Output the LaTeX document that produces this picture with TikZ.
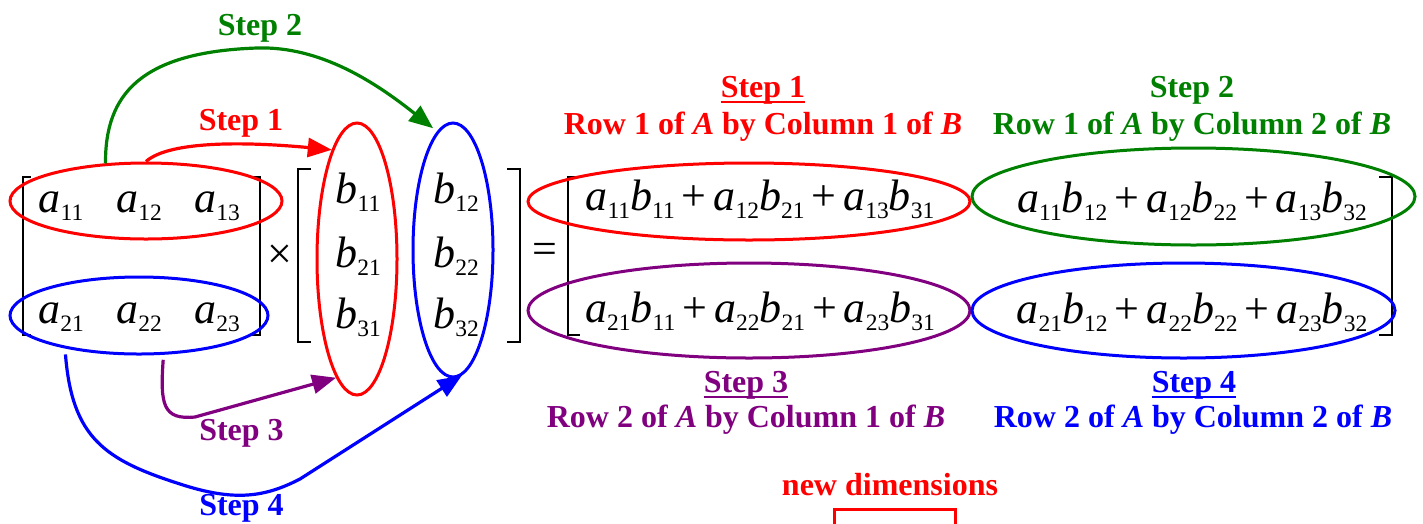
\documentclass[tikz,border=0pt]{standalone}
\usepackage{fontspec}
\setmainfont{Liberation Serif}
\usetikzlibrary{shapes.geometric,arrows.meta,calc}
\definecolor{cred}{RGB}{255,0,0}
\definecolor{cgreen}{RGB}{0,128,0}
\definecolor{cblue}{RGB}{0,0,255}
\definecolor{cpurple}{RGB}{128,0,128}
\newcommand\ent[2]{\textit{#1}\raisebox{-8pt}{\fontsize{23.5}{25}\selectfont #2}}
\newcommand\pl{\hspace{7pt}+\hspace{7pt}}
\begin{document}
\begin{tikzpicture}[x=1pt,y=-1pt,
 lab/.style={inner sep=0pt, anchor=base, font=\fontsize{32}{36}\selectfont\bfseries},
 mth/.style={inner sep=0pt, anchor=base, font=\fontsize{44}{48}\selectfont},
 ell/.style={ellipse, draw, line width=3pt, inner sep=0pt},
 brk/.style={line width=1.4pt, black},
 arr/.style={line width=3.2pt, -{Triangle[length=24pt,width=19pt]}},
 uline/.style={line width=2.5pt}]
\useasboundingbox (0,0) rectangle (1423,523);

% matrix A
\node[mth] (a11) at (61,212) {\ent{a}{11}};
\node[mth] (a12) at (139,212) {\ent{a}{12}};
\node[mth] (a13) at (217,212) {\ent{a}{13}};
\node[mth] (a21) at (61,323) {\ent{a}{21}};
\node[mth] (a22) at (139,323) {\ent{a}{22}};
\node[mth] (a23) at (217,323) {\ent{a}{23}};
\draw[brk] (31,177) -- (23,177) -- (23,335) -- (31,335);
\draw[brk] (252,177) -- (260,177) -- (260,335) -- (252,335);
\node[mth, anchor=center] (times) at (280,257) {×};

% matrix B
\node[mth] (b11) at (358,203) {\ent{b}{11}};
\node[mth] (b21) at (358,267) {\ent{b}{21}};
\node[mth] (b31) at (358,328) {\ent{b}{31}};
\node[mth] (b12) at (456,203) {\ent{b}{12}};
\node[mth] (b22) at (456,267) {\ent{b}{22}};
\node[mth] (b32) at (456,328) {\ent{b}{32}};
\draw[brk] (311,169) -- (298,169) -- (298,342) -- (311,342);
\draw[brk] (507,169) -- (520,169) -- (520,342) -- (507,342);
\node[mth, anchor=center] (eq) at (545,253) {=};

% result
\node[mth] (r11) at (760,210) {\ent{a}{11}\ent{b}{11}\pl\ent{a}{12}\ent{b}{21}\pl\ent{a}{13}\ent{b}{31}};
\node[mth] (r21) at (760,322) {\ent{a}{21}\ent{b}{11}\pl\ent{a}{22}\ent{b}{21}\pl\ent{a}{23}\ent{b}{31}};
\node[mth] (r12) at (1192,212) {\ent{a}{11}\ent{b}{12}\pl\ent{a}{12}\ent{b}{22}\pl\ent{a}{13}\ent{b}{32}};
\node[mth] (r22) at (1192,323) {\ent{a}{21}\ent{b}{12}\pl\ent{a}{22}\ent{b}{22}\pl\ent{a}{23}\ent{b}{32}};
\draw[brk] (580,177) -- (568,177) -- (568,335) -- (580,335);
\draw[brk] (1379,177) -- (1392,177) -- (1392,335) -- (1379,335);

% ellipses
\node[ell, cred, minimum width=272pt, minimum height=76pt] (ea1) at (146,201) {};
\node[ell, cblue, minimum width=258pt, minimum height=77pt] (ea2) at (139,315.5) {};
\node[ell, cred, minimum width=80pt, minimum height=272pt] (eb1) at (357,259) {};
\node[ell, cblue, minimum width=80pt, minimum height=254pt] (eb2) at (453,250) {};
\node[ell, cred, minimum width=442pt, minimum height=77pt] (er11) at (749,201.5) {};
\node[ell, cpurple, minimum width=442pt, minimum height=95pt] (er21) at (749,310.5) {};
\node[ell, cgreen, minimum width=443pt, minimum height=97pt] (er12) at (1193.5,196.5) {};
\node[ell, cblue, minimum width=423pt, minimum height=95pt] (er22) at (1183.5,310.5) {};

% arrows
\draw[arr, cred] (ea1.north) .. controls (170,140) and (250,142) .. (eb1.103);
\draw[arr, cgreen] (ea1.137) .. controls (105,95) and (140,52) .. (257,48) .. controls (320,46) and (375,82) .. ($(eb2.100)+(0,-9)$);
\draw[arr, cpurple, shorten <=5pt] (ea2.-58) .. controls (160,405) and (163,420) .. (195,417) -- (eb1.260);
\draw[arr, cblue, shorten <=6pt] (ea2.204) .. controls (72,438) and (105,460) .. (180,484) .. controls (235,502) and (265,497) .. (300,479) -- (eb2.274);

% arrow labels
\node[lab, cred] (l1) at (241,130) {Step 1};
\node[lab, cgreen] (l2) at (260,35) {Step 2};
\node[lab, cpurple] (l3) at (241.5,440) {Step 3};
\node[lab, cblue] (l4) at (241.5,515) {Step 4};

% result labels
\node[lab, cred] (s1) at (763,97) {Step 1};
\draw[cred, uline] ($(s1.base west)+(0,5)$) -- ($(s1.base east)+(0,5)$);
\node[lab, cred] (d1) at (763,134) {Row 1 of \textit{A} by Column 1 of \textit{B}};
\node[lab, cgreen] (s2) at (1192,97) {Step 2};
\node[lab, cgreen] (d2) at (1192,134) {Row 1 of \textit{A} by Column 2 of \textit{B}};
\node[lab, cpurple] (s3) at (746,392) {Step 3};
\draw[cpurple, uline] ($(s3.base west)+(0,5)$) -- ($(s3.base east)+(0,5)$);
\node[lab, cpurple] (d3) at (746,427) {Row 2 of \textit{A} by Column 1 of \textit{B}};
\node[lab, cblue] (s4) at (1194,392) {Step 4};
\draw[cblue, uline] ($(s4.base west)+(0,5)$) -- ($(s4.base east)+(0,5)$);
\node[lab, cblue] (d4) at (1193,427) {Row 2 of \textit{A} by Column 2 of \textit{B}};

% new dimensions
\node[lab, cred] (nd) at (890,495) {new dimensions};
\draw[cred, line width=3pt] (834,526) -- (834,509) -- (955,509) -- (955,526);
\end{tikzpicture}
\end{document}
